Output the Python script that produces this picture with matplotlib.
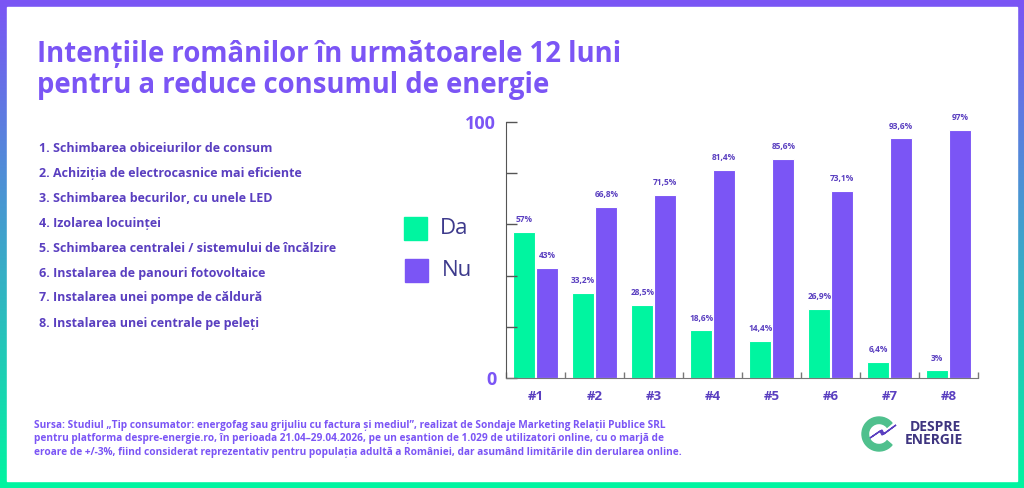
import numpy as np
import matplotlib
matplotlib.use("Agg")
import matplotlib.pyplot as plt
from matplotlib.patches import Rectangle, Wedge, Polygon

# date
categorii = ["#1", "#2", "#3", "#4", "#5", "#6", "#7", "#8"]
da = [57, 33.2, 28.5, 18.6, 14.4, 26.9, 6.4, 3]
nu = [43, 66.8, 71.5, 81.4, 85.6, 73.1, 93.6, 97]
etichete_da = ["57%", "33,2%", "28,5%", "18,6%", "14,4%", "26,9%", "6,4%", "3%"]
etichete_nu = ["43%", "66,8%", "71,5%", "81,4%", "85,6%", "73,1%", "93,6%", "97%"]
masuri = [
    "1. Schimbarea obiceiurilor de consum",
    "2. Achiziția de electrocasnice mai eficiente",
    "3. Schimbarea becurilor, cu unele LED",
    "4. Izolarea locuinței",
    "5. Schimbarea centralei / sistemului de încălzire",
    "6. Instalarea de panouri fotovoltaice",
    "7. Instalarea unei pompe de căldură",
    "8. Instalarea unei centrale pe peleți",
]
titlu = "Intențiile românilor în următoarele 12 luni\npentru a reduce consumul de energie"
sursa = ("Sursa: Studiul „Tip consumator: energofag sau grijuliu cu factura și mediul”, realizat de Sondaje Marketing Relații Publice SRL\n"
         "pentru platforma despre-energie.ro, în perioada 21.04–29.04.2026, pe un eșantion de 1.029 de utilizatori online, cu o marjă de\n"
         "eroare de +/-3%, fiind considerat reprezentativ pentru populația adultă a României, dar asumând limitările din derularea online.")

VERDE = "#00f5a0"
MOV = "#7b55f5"
MOV_INCHIS = "#5a3fc0"
INDIGO = "#3d3a8c"

plt.rcParams['font.family'] = ['Open Sans', 'DejaVu Sans']

W, H = 1024, 488
fig = plt.figure(figsize=(W / 100, H / 100), dpi=100)

# rama cu gradient
bg = fig.add_axes([0, 0, 1, 1])
top = np.array([123, 85, 245]) / 255
bot = np.array([0, 245, 160]) / 255
t = np.linspace(0, 1, 256)[:, None]
grad = top[None, :] * (1 - t) + bot[None, :] * t
bg.imshow(grad[:, None, :], aspect="auto", extent=[0, 1, 0, 1])
bg.add_patch(Rectangle((7 / W, 7 / H), (1017 - 7) / W, (481 - 7) / H, color="white"))
bg.set_xlim(0, 1)
bg.set_ylim(0, 1)
bg.axis("off")

# titlu
fig.text(37 / W, 1 - 40 / H, titlu, fontsize=19.8, fontweight="bold", color=MOV,
         va="top", ha="left", linespacing=1.08)

# lista
for i, m in enumerate(masuri):
    fig.text(39 / W, 1 - (148 + 25 * i) / H, m, fontsize=9.0, fontweight="bold",
             color=MOV_INCHIS, va="center", ha="left")

# sursa
fig.text(34 / W, 1 - 439 / H, sursa, fontsize=7.3, fontweight="bold", color=MOV,
         va="center", ha="left", linespacing=1.3)

# legenda
fig.patches.append(Rectangle((404 / W, 1 - 240 / H), 23 / W, 23 / H, color=VERDE,
                             transform=fig.transFigure, figure=fig))
fig.patches.append(Rectangle((405 / W, 1 - 282 / H), 23 / W, 23 / H, color=MOV,
                             transform=fig.transFigure, figure=fig))
fig.text(440 / W, 1 - 229 / H, "Da", fontsize=16, color=INDIGO, va="center", ha="left")
fig.text(442 / W, 1 - 271 / H, "Nu", fontsize=16, color=INDIGO, va="center", ha="left")

# grafic
ax = fig.add_axes([506 / W, 1 - 378 / H, (978 - 506) / W, (378 - 122) / H])
x = np.arange(len(categorii))
w = 0.37
b1 = ax.bar(x - 0.19, da, w, color=VERDE, edgecolor="white", linewidth=0.8)
b2 = ax.bar(x + 0.2, nu, w, color=MOV, edgecolor="white", linewidth=0.8)
for r, lab in zip(b1, etichete_da):
    ax.text(r.get_x() + r.get_width() / 2, r.get_height() + 3, lab, ha="center", va="bottom",
            fontsize=6, fontweight="bold", color=MOV_INCHIS)
for r, lab in zip(b2, etichete_nu):
    ax.text(r.get_x() + r.get_width() / 2, r.get_height() + 3, lab, ha="center", va="bottom",
            fontsize=6, fontweight="bold", color=MOV_INCHIS)

ax.set_xlim(-0.5, 7.5)
ax.set_ylim(0, 100)
ax.set_yticks([0, 20, 40, 60, 80, 100])
ax.set_yticklabels(["0", "", "", "", "", "100"])
ax.tick_params(axis="y", direction="in", length=8, width=1, color="#555555", pad=7,
               labelsize=13, labelcolor=MOV)
for lb in ax.get_yticklabels():
    lb.set_fontweight("bold")
ax.set_xticks(x)
ax.set_xticklabels(categorii)
ax.tick_params(axis="x", length=0, pad=9, labelsize=9.5, labelcolor=MOV_INCHIS)
for lb in ax.get_xticklabels():
    lb.set_fontweight("bold")
ax.set_xticks(np.arange(-0.5, 8, 1), minor=True)
ax.tick_params(axis="x", which="minor", direction="in", length=4, width=1, color="#777777")
for s in ["top", "right"]:
    ax.spines[s].set_visible(False)
ax.spines["left"].set_color("#555555")
ax.spines["bottom"].set_color("#777777")
ax.set_facecolor("none")

# logo
lg = fig.add_axes([858 / W, 1 - 455 / H, 110 / W, 42 / H])
lg.set_xlim(0, 110)
lg.set_ylim(0, 42)
lg.set_aspect("equal")
lg.axis("off")
lg.add_patch(Wedge((21, 21), 17, 40, 320, width=6.5, color="#4fc08d"))
lg.add_patch(Polygon([[12, 17], [22, 24], [24, 20], [38, 30], [26, 21], [24, 25]], color="#5a3fc0"))
lg.text(52, 28, "DESPRE", fontsize=10, fontweight="bold", color="#3f3580", va="center", ha="left")
lg.text(47, 15, "ENERGIE", fontsize=10, fontweight="bold", color="#3f3580", va="center", ha="left")

fig.savefig("out.png", dpi=100)
